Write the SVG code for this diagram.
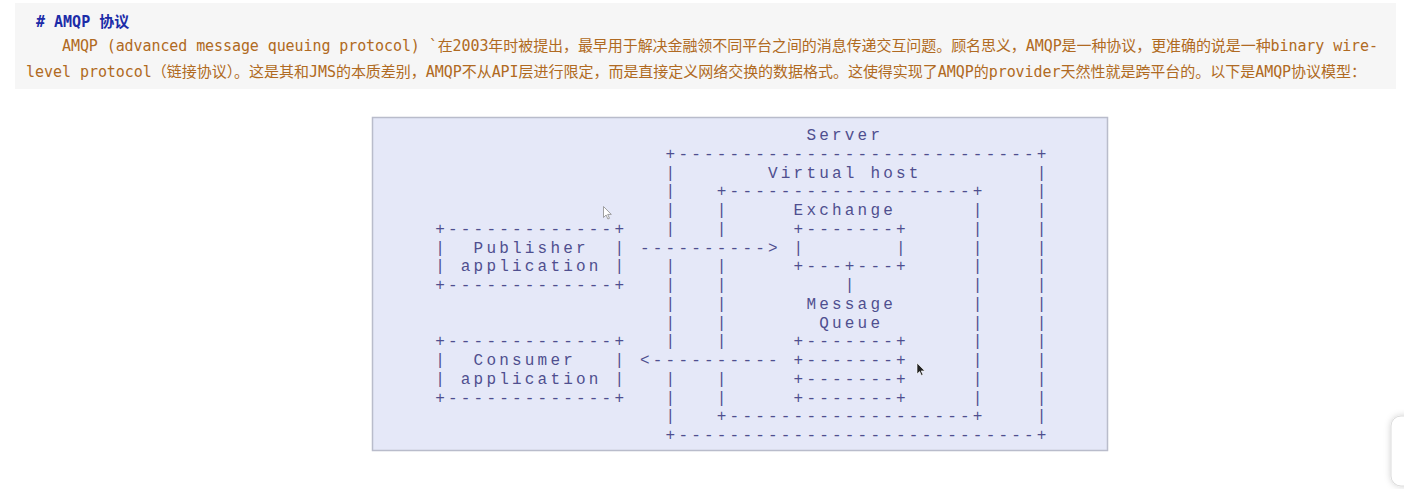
<svg xmlns="http://www.w3.org/2000/svg" width="1404" height="489" viewBox="0 0 1404 489">
<style>
.a{font-family:"Liberation Mono",monospace;font-size:16px;letter-spacing:3.2px;fill:#4f4f8f;white-space:pre}
.h{font-family:"DejaVu Sans Mono","Noto Sans CJK SC",monospace;font-size:15px;font-weight:bold;fill:#1c2ca8}
.p{font-family:"DejaVu Sans Mono","Noto Sans CJK SC",monospace;font-size:15px;fill:#b06a22}
</style>
<defs>
<filter id="sh" x="-50%" y="-50%" width="200%" height="200%"><feDropShadow dx="0" dy="0" stdDeviation="3" flood-color="#000" flood-opacity="0.18"/></filter>
</defs>
<rect width="1404" height="489" fill="#ffffff"/>
<g id="header">
<rect x="15" y="3" width="1381" height="86" fill="#f6f6f6"/>
<text class="h" x="36" y="27"># AMQP 协议</text>
<text class="p" x="62" y="51" textLength="1316" lengthAdjust="spacing">AMQP (advanced message queuing protocol) `在2003年时被提出，最早用于解决金融领不同平台之间的消息传递交互问题。顾名思义，AMQP是一种协议，更准确的说是一种binary wire-</text>
<text class="p" x="26" y="77" textLength="1340" lengthAdjust="spacing">level protocol（链接协议）。这是其和JMS的本质差别，AMQP不从API层进行限定，而是直接定义网络交换的数据格式。这使得实现了AMQP的provider天然性就是跨平台的。以下是AMQP协议模型：</text>
</g>
<rect x="372.5" y="117.5" width="735" height="333" fill="#e5e8f8" stroke="#b9bccb" stroke-width="1.5"/>
<g transform="translate(1.6,0)">
<g id="server">
<text class="a" xml:space="preserve"><tspan x="804.8" y="140">Server</tspan><tspan x="664" y="158.75">+----------------------------+</tspan><tspan x="664" y="440">+----------------------------+</tspan><tspan x="664" y="177.5">|</tspan><tspan x="664" y="196.25">|</tspan><tspan x="664" y="215">|</tspan><tspan x="664" y="233.75">|</tspan><tspan x="664" y="271.25">|</tspan><tspan x="664" y="290">|</tspan><tspan x="664" y="308.75">|</tspan><tspan x="664" y="327.5">|</tspan><tspan x="664" y="346.25">|</tspan><tspan x="664" y="383.75">|</tspan><tspan x="664" y="402.5">|</tspan><tspan x="664" y="421.25">|</tspan><tspan x="1035.2" y="177.5">|</tspan><tspan x="1035.2" y="196.25">|</tspan><tspan x="1035.2" y="215">|</tspan><tspan x="1035.2" y="233.75">|</tspan><tspan x="1035.2" y="252.5">|</tspan><tspan x="1035.2" y="271.25">|</tspan><tspan x="1035.2" y="290">|</tspan><tspan x="1035.2" y="308.75">|</tspan><tspan x="1035.2" y="327.5">|</tspan><tspan x="1035.2" y="346.25">|</tspan><tspan x="1035.2" y="365">|</tspan><tspan x="1035.2" y="383.75">|</tspan><tspan x="1035.2" y="402.5">|</tspan><tspan x="1035.2" y="421.25">|</tspan></text>
</g>
<g id="virtual-host">
<text class="a" xml:space="preserve"><tspan x="766.4" y="177.5">Virtual host</tspan><tspan x="715.2" y="196.25">+-------------------+</tspan><tspan x="715.2" y="421.25">+-------------------+</tspan><tspan x="715.2" y="215">|</tspan><tspan x="715.2" y="233.75">|</tspan><tspan x="715.2" y="271.25">|</tspan><tspan x="715.2" y="290">|</tspan><tspan x="715.2" y="308.75">|</tspan><tspan x="715.2" y="327.5">|</tspan><tspan x="715.2" y="346.25">|</tspan><tspan x="715.2" y="383.75">|</tspan><tspan x="715.2" y="402.5">|</tspan><tspan x="971.2" y="215">|</tspan><tspan x="971.2" y="233.75">|</tspan><tspan x="971.2" y="252.5">|</tspan><tspan x="971.2" y="271.25">|</tspan><tspan x="971.2" y="290">|</tspan><tspan x="971.2" y="308.75">|</tspan><tspan x="971.2" y="327.5">|</tspan><tspan x="971.2" y="346.25">|</tspan><tspan x="971.2" y="365">|</tspan><tspan x="971.2" y="383.75">|</tspan><tspan x="971.2" y="402.5">|</tspan></text>
</g>
<g id="exchange">
<text class="a" xml:space="preserve"><tspan x="792" y="215">Exchange</tspan><tspan x="792" y="233.75">+-------+</tspan><tspan x="792" y="252.5">|       |</tspan><tspan x="792" y="271.25">+---+---+</tspan></text>
</g>
<g id="message-queue">
<text class="a" xml:space="preserve"><tspan x="804.8" y="308.75">Message</tspan><tspan x="817.6" y="327.5">Queue</tspan><tspan x="792" y="346.25">+-------+</tspan><tspan x="792" y="365">+-------+</tspan><tspan x="792" y="383.75">+-------+</tspan><tspan x="792" y="402.5">+-------+</tspan></text>
</g>
<g id="publisher">
<text class="a" xml:space="preserve"><tspan x="433.6" y="233.75">+-------------+</tspan><tspan x="433.6" y="252.5">|  Publisher  |</tspan><tspan x="433.6" y="271.25">| application |</tspan><tspan x="433.6" y="290">+-------------+</tspan></text>
</g>
<g id="consumer">
<text class="a" xml:space="preserve"><tspan x="433.6" y="346.25">+-------------+</tspan><tspan x="433.6" y="365">|  Consumer   |</tspan><tspan x="433.6" y="383.75">| application |</tspan><tspan x="433.6" y="402.5">+-------------+</tspan></text>
</g>
<g id="connectors">
<text class="a" xml:space="preserve"><tspan x="638.4" y="252.5">----------&gt;</tspan><tspan x="843.2" y="290">|</tspan><tspan x="638.4" y="365">&lt;----------</tspan></text>
</g>
</g>
<g id="cursors">
<path d="M603.5 206.5 v11 l2.6 -2.5 l1.8 4 l1.6 -0.7 l-1.8 -3.9 h3.6 z" fill="#ffffff" stroke="#8a8a8a" stroke-width="0.8"/>
<path d="M917 363 v11 l2.6 -2.5 l1.8 4 l1.6 -0.7 l-1.8 -3.9 h3.6 z" fill="#222222" stroke="#ffffff" stroke-width="0.6"/>
</g>
<rect x="1391" y="416" width="40" height="70" rx="10" fill="#ffffff" stroke="#dcdcdc" filter="url(#sh)"/>
</svg>
